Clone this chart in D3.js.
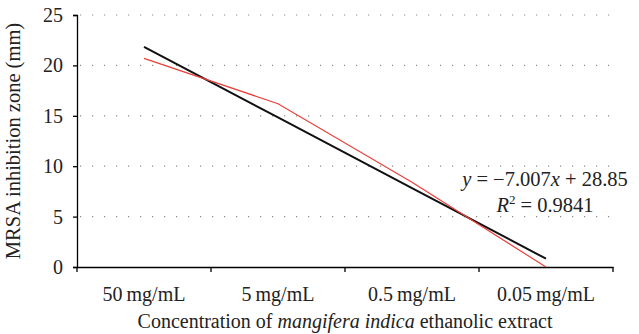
<!DOCTYPE html>
<html>
<head>
<meta charset="utf-8">
<script src="https://cdn.jsdelivr.net/npm/d3@7"></script>
<style>
  body { margin: 0; background: #fff; }
  svg { font-family: "Liberation Serif", "DejaVu Serif", serif; }
</style>
</head>
<body>
<svg id="chart"></svg>
<script>
        // Concentrations on the x axis and measured inhibition zones (mm)
        const categories = ['50\u2009mg/mL', '5\u2009mg/mL', '0.5\u2009mg/mL', '0.05\u2009mg/mL'];
        const zoneValues = [20.7, 16.2, 8.4, 0];
        const yTicks = [0, 5, 10, 15, 20, 25];

        // Linear trendline as printed on the chart
        const trendSlope = -7.007;
        const trendIntercept = 28.85;
        const trendR2 = 0.9841;

        const width = 639, height = 334;
        const margin = { top: 15, right: 26, bottom: 67, left: 77 };
        const innerW = width - margin.left - margin.right;
        const innerH = height - margin.top - margin.bottom;

        const svg = d3.select('#chart')
            .attr('width', width)
            .attr('height', height)
            .append('g')
            .attr('transform', `translate(${margin.left},${margin.top})`);

        const xScale = d3.scaleBand()
            .domain(categories)
            .range([0, innerW])
            .padding(0);

        const yScale = d3.scaleLinear()
            .domain([0, 25])
            .range([innerH, 0]);

        const cx = i => xScale(categories[i]) + xScale.bandwidth() / 2;

        // Dotted gridlines
        svg.selectAll('.grid')
            .data(yTicks.filter(d => d > 0))
            .enter()
            .append('line')
            .attr('x1', 3)
            .attr('x2', innerW)
            .attr('y1', d => yScale(d))
            .attr('y2', d => yScale(d))
            .attr('stroke', '#8a8a8a')
            .attr('stroke-width', 1.2)
            .attr('stroke-dasharray', '1.2,10.8');

        // y axis
        const yAxis = svg.append('g')
            .call(d3.axisLeft(yScale).tickValues(yTicks).tickSize(4).tickPadding(10));
        yAxis.select('.domain').attr('stroke', '#000').attr('stroke-width', 1.3);
        yAxis.selectAll('.tick line').attr('stroke', '#000').attr('stroke-width', 1.3);
        yAxis.selectAll('text')
            .attr('font-family', '"Liberation Serif", serif')
            .attr('font-size', 20)
            .attr('fill', '#222');

        // x axis with ticks at band boundaries
        const xAxis = svg.append('g')
            .attr('transform', `translate(0,${innerH})`)
            .call(d3.axisBottom(xScale).tickSize(0).tickSizeOuter(0).tickPadding(20));
        xAxis.select('.domain').attr('stroke', '#000').attr('stroke-width', 1.3);
        xAxis.selectAll('text')
            .attr('font-family', '"Liberation Serif", serif')
            .attr('font-size', 20)
            .attr('fill', '#222');
        xAxis.selectAll('.bound')
            .data(d3.range(categories.length + 1))
            .enter()
            .append('line')
            .attr('class', 'bound')
            .attr('x1', i => i * xScale.bandwidth())
            .attr('x2', i => i * xScale.bandwidth())
            .attr('y1', 0)
            .attr('y2', 5)
            .attr('stroke', '#000')
            .attr('stroke-width', 1.3);

        // Trendline
        const trend = d3.range(categories.length).map(i => trendIntercept + trendSlope * (i + 1));
        const line = d3.line()
            .x((d, i) => cx(i))
            .y(d => yScale(d));

        svg.append('path')
            .datum(trend)
            .attr('fill', 'none')
            .attr('stroke', '#111')
            .attr('stroke-width', 2)
            .attr('d', line);

        // Measured series
        svg.append('path')
            .datum(zoneValues)
            .attr('fill', 'none')
            .attr('stroke', '#e8413c')
            .attr('stroke-width', 1.2)
            .attr('d', line);

        // Equation label
        const eq = svg.append('text')
            .attr('x', 468)
            .attr('y', yScale(8.0))
            .attr('text-anchor', 'middle')
            .attr('font-size', 20.5)
            .attr('fill', '#222');
        eq.append('tspan').attr('font-style', 'italic').text('y');
        eq.append('tspan').text(` = \u2212${Math.abs(trendSlope).toFixed(3)}`);
        eq.append('tspan').attr('font-style', 'italic').text('x');
        eq.append('tspan').text(` + ${trendIntercept}`);

        const r2 = svg.append('text')
            .attr('x', 468)
            .attr('y', yScale(5.5))
            .attr('text-anchor', 'middle')
            .attr('font-size', 20.5)
            .attr('fill', '#222');
        r2.append('tspan').attr('font-style', 'italic').text('R');
        r2.append('tspan').attr('font-size', 13).attr('dy', -8).text('2');
        r2.append('tspan').attr('dy', 8).text(` = ${trendR2}`);

        // Axis titles
        svg.append('text')
            .attr('transform', `translate(${20 - margin.left},${innerH / 2}) rotate(-90)`)
            .attr('text-anchor', 'middle')
            .attr('font-size', 20.5)
            .attr('fill', '#222')
            .text('MRSA inhibition zone (mm)');

        const xt = svg.append('text')
            .attr('x', innerW / 2)
            .attr('y', innerH + 61)
            .attr('text-anchor', 'middle')
            .attr('font-size', 20)
            .attr('fill', '#222');
        xt.append('tspan').text('Concentration of ');
        xt.append('tspan').attr('font-style', 'italic').text('mangifera indica');
        xt.append('tspan').text(' ethanolic extract');
</script>
</body>
</html>
